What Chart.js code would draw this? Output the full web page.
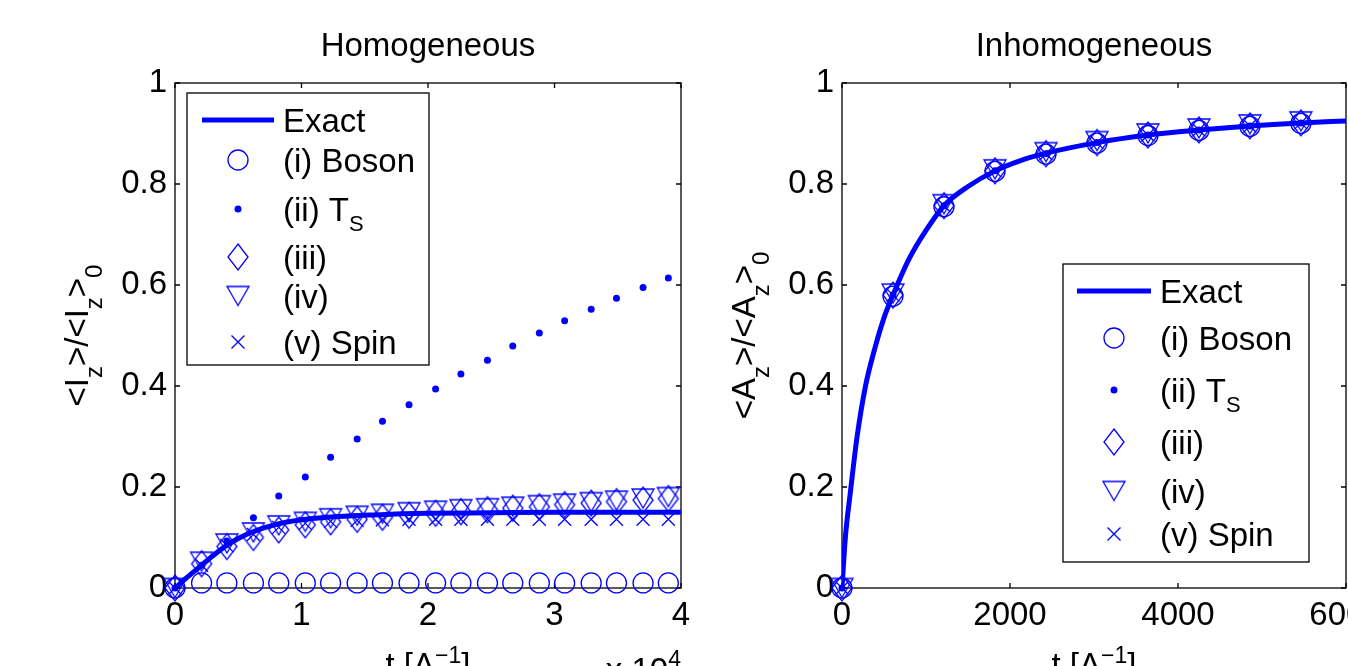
<!DOCTYPE html>
<html>
<head>
<meta charset="utf-8">
<script src="https://cdn.jsdelivr.net/npm/chart.js@4.4.1/dist/chart.umd.min.js"></script>
<style>
    html, body { margin: 0; padding: 0; background: #fff; overflow: hidden; }
    #wrap { position: relative; width: 1348px; height: 666px; overflow: hidden; }
    canvas { position: absolute; top: 0; }
    #homCanvas { left: 0; }
    #inhCanvas { left: 720px; }
</style>
</head>
<body>
<div id="wrap">
    <canvas id="homCanvas" width="720" height="666"></canvas>
    <canvas id="inhCanvas" width="700" height="666"></canvas>
</div>
<script>
// ---- Homogeneous panel (t in units of 10^4) ----
const homExactT = [0, 0.1, 0.2, 0.3, 0.4, 0.5, 0.6, 0.8, 1.0, 1.2, 1.4, 1.6, 1.8, 2.0, 2.5, 3.0, 3.5, 4.0];
const homExactV = [0, 0.022, 0.043, 0.064, 0.083, 0.098, 0.110, 0.126, 0.135, 0.140, 0.143, 0.145, 0.147, 0.148, 0.149, 0.150, 0.150, 0.150];
const homMarkT = [0, 0.21, 0.41, 0.62, 0.82, 1.03, 1.23, 1.44, 1.64, 1.85, 2.06, 2.26, 2.47, 2.67, 2.88, 3.08, 3.29, 3.49, 3.70, 3.90];
const homBoson = [0, 0.01, 0.01, 0.01, 0.01, 0.01, 0.01, 0.01, 0.01, 0.01, 0.01, 0.01, 0.01, 0.01, 0.01, 0.01, 0.01, 0.01, 0.01, 0.01];
const homTs = [0, 0.045, 0.093, 0.139, 0.182, 0.220, 0.259, 0.295, 0.330, 0.363, 0.394, 0.424, 0.451, 0.479, 0.505, 0.529, 0.552, 0.574, 0.595, 0.614];
const homIii = [0, 0.048, 0.082, 0.100, 0.115, 0.125, 0.131, 0.136, 0.140, 0.144, 0.148, 0.151, 0.155, 0.158, 0.161, 0.165, 0.168, 0.171, 0.174, 0.177];
const homIv = [0, 0.052, 0.088, 0.110, 0.124, 0.131, 0.138, 0.143, 0.147, 0.150, 0.153, 0.156, 0.158, 0.161, 0.164, 0.167, 0.170, 0.173, 0.177, 0.180];
const homSpin = [0, 0.045, 0.084, 0.106, 0.120, 0.128, 0.132, 0.134, 0.135, 0.136, 0.136, 0.136, 0.136, 0.136, 0.136, 0.136, 0.136, 0.136, 0.136, 0.136];
const homXTicks = [0, 1, 2, 3, 4];

// ---- Inhomogeneous panel ----
const inhExactT = [0, 40, 100, 180, 280, 400, 500, 607, 800, 1000, 1214, 1500, 1821, 2100, 2428, 3035, 3642, 4249, 4856, 5463, 6000];
const inhExactV = [0, 0.10, 0.19, 0.30, 0.40, 0.48, 0.535, 0.58, 0.652, 0.708, 0.757, 0.795, 0.826, 0.845, 0.861, 0.882, 0.897, 0.907, 0.915, 0.921, 0.925];
const inhMarkT = [0, 607, 1214, 1821, 2428, 3035, 3642, 4249, 4856, 5463];
const inhBoson = [0, 0.578, 0.755, 0.825, 0.859, 0.881, 0.896, 0.906, 0.914, 0.920];
const inhTs = [0, 0.580, 0.757, 0.826, 0.860, 0.882, 0.897, 0.907, 0.915, 0.921];
const inhIii = [0, 0.580, 0.757, 0.826, 0.860, 0.882, 0.897, 0.907, 0.915, 0.921];
const inhIv = [0, 0.583, 0.760, 0.829, 0.863, 0.885, 0.900, 0.910, 0.918, 0.924];
const inhSpin = [0, 0.580, 0.757, 0.826, 0.860, 0.882, 0.897, 0.907, 0.915, 0.921];
const inhXTicks = [0, 2000, 4000, 6000];

const yTicks = [0, 0.2, 0.4, 0.6, 0.8, 1];
const legendLabels = [
    [['Exact', '']],
    [['(i) Boson', '']],
    [['(ii) T', ''], ['S', 'sub']],
    [['(iii)', '']],
    [['(iv)', '']],
    [['(v) Spin', '']]
];
const legendKinds = ['line', 'circle', 'dot', 'diamond', 'tri', 'x'];

const FONT = "'Liberation Sans', Arial, Helvetica, sans-serif";
const BLUE = '#0000ff';
const FS = 33;

// marker images for the MATLAB-like diamond and down-triangle
function shapeCanvas(w, h, draw) {
    const c = document.createElement('canvas');
    c.width = w;
    c.height = h;
    const g = c.getContext('2d');
    g.strokeStyle = BLUE;
    g.lineWidth = 1.3;
    draw(g, w, h);
    return c;
}
const diamondImg = shapeCanvas(24, 30, function(g, w, h) {
    g.beginPath();
    g.moveTo(w / 2, 2); g.lineTo(w - 2, h / 2); g.lineTo(w / 2, h - 2); g.lineTo(2, h / 2);
    g.closePath();
    g.stroke();
});
const triImg = shapeCanvas(26, 23, function(g, w, h) {
    g.beginPath();
    g.moveTo(2, 2); g.lineTo(w - 2, 2); g.lineTo(w / 2, h - 2);
    g.closePath();
    g.stroke();
});

function pts(xs, ys) {
    return xs.map((x, i) => ({ x: x, y: ys[i] }));
}

function markerSet(xs, ys, style, radius, filled) {
    return {
        data: pts(xs, ys),
        pointStyle: style,
        pointRadius: radius,
        pointHoverRadius: radius,
        borderColor: BLUE,
        backgroundColor: filled ? BLUE : 'rgba(0,0,0,0)',
        pointBorderWidth: filled ? 0 : 1.3,
        clip: false,
        order: 0
    };
}

// text with sub/superscripts
function richWidth(ctx, parts, st) {
    let w = 0;
    parts.forEach(p => {
        ctx.font = (p[1] ? st.small : st.size) + 'px ' + FONT;
        w += ctx.measureText(p[0]).width;
    });
    return w;
}
function drawRich(ctx, parts, x, y, align, st) {
    const w = richWidth(ctx, parts, st);
    let cx = align === 'center' ? x - w / 2 : (align === 'right' ? x - w : x);
    ctx.textAlign = 'left';
    ctx.textBaseline = 'alphabetic';
    ctx.fillStyle = '#000';
    parts.forEach(p => {
        ctx.font = (p[1] ? st.small : st.size) + 'px ' + FONT;
        const dy = p[1] === 'sub' ? st.subDy : (p[1] === 'sup' ? -st.supDy : 0);
        ctx.fillText(p[0], cx, y + dy);
        cx += ctx.measureText(p[0]).width;
    });
}

function drawMarker(ctx, kind, x, y, lx) {
    ctx.save();
    ctx.strokeStyle = BLUE;
    ctx.fillStyle = BLUE;
    ctx.lineWidth = 1.3;
    ctx.beginPath();
    if (kind === 'line') {
        ctx.lineWidth = 5;
        ctx.moveTo(lx[0], y);
        ctx.lineTo(lx[1], y);
        ctx.stroke();
    } else if (kind === 'circle') {
        ctx.arc(x, y, 10, 0, Math.PI * 2);
        ctx.stroke();
    } else if (kind === 'dot') {
        ctx.arc(x, y, 3.5, 0, Math.PI * 2);
        ctx.fill();
    } else if (kind === 'diamond') {
        ctx.drawImage(diamondImg, x - 12, y - 15);
    } else if (kind === 'tri') {
        ctx.drawImage(triImg, x - 13, y - 11.5);
    } else if (kind === 'x') {
        ctx.moveTo(x - 6.5, y - 6.5); ctx.lineTo(x + 6.5, y + 6.5);
        ctx.moveTo(x + 6.5, y - 6.5); ctx.lineTo(x - 6.5, y + 6.5);
        ctx.stroke();
    }
    ctx.restore();
}

// axes box, inward ticks, legend, titles
function panelPlugin(cfg) {
    return {
        id: 'panel',
        beforeDatasetsDraw(chart) {
            const ctx = chart.ctx;
            const a = chart.chartArea;
            const sx = chart.scales.x, sy = chart.scales.y;
            ctx.save();
            ctx.strokeStyle = '#000';
            ctx.lineWidth = 1.3;
            ctx.strokeRect(a.left, a.top, a.right - a.left, a.bottom - a.top);
            ctx.beginPath();
            sx.ticks.forEach(t => {
                const px = sx.getPixelForValue(t.value);
                ctx.moveTo(px, a.bottom); ctx.lineTo(px, a.bottom - 5);
                ctx.moveTo(px, a.top); ctx.lineTo(px, a.top + 5);
            });
            sy.ticks.forEach(t => {
                const py = sy.getPixelForValue(t.value);
                ctx.moveTo(a.left, py); ctx.lineTo(a.left + 5, py);
                ctx.moveTo(a.right, py); ctx.lineTo(a.right - 5, py);
            });
            ctx.stroke();
            ctx.restore();
        },
        afterDatasetsDraw(chart) {
            const ctx = chart.ctx;
            const L = cfg.legend;
            ctx.save();
            ctx.fillStyle = '#fff';
            ctx.fillRect(L.x, L.y, L.w, L.h);
            ctx.strokeStyle = '#000';
            ctx.lineWidth = 1.3;
            ctx.strokeRect(L.x, L.y, L.w, L.h);
            legendKinds.forEach((k, i) => {
                drawMarker(ctx, k, L.symX, L.rows[i], L.lineX);
                drawRich(ctx, legendLabels[i], L.textX, L.rows[i] + 12, 'left',
                    { size: FS, small: 22, subDy: 10, supDy: 0 });
            });
            ctx.restore();
        },
        afterDraw(chart) {
            const ctx = chart.ctx;
            const a = chart.chartArea;
            const mid = (a.left + a.right) / 2;
            ctx.save();
            drawRich(ctx, [[cfg.title, '']], mid, 56, 'center', { size: FS, small: 22, subDy: 0, supDy: 0 });
            drawRich(ctx, cfg.xLabel, mid, 676, 'center', { size: FS, small: 23, subDy: 0, supDy: 13 });
            if (cfg.exponent) {
                drawRich(ctx, cfg.exponent, a.right, 681, 'right', { size: FS, small: 23, subDy: 0, supDy: 14 });
            }
            ctx.translate(a.left - 87, (a.top + a.bottom) / 2);
            ctx.rotate(-Math.PI / 2);
            drawRich(ctx, cfg.yLabel, 0, 0, 'center', { size: FS, small: 24, subDy: 14, supDy: 0 });
            ctx.restore();
        }
    };
}

function makeChart(canvasId, cfg) {
    const tickFont = { family: FONT, size: FS };
    return new Chart(document.getElementById(canvasId), {
        type: 'scatter',
        data: {
            datasets: [
                {
                    data: pts(cfg.exactT, cfg.exactV),
                    showLine: true,
                    borderColor: BLUE,
                    borderWidth: 5,
                    pointRadius: 0,
                    cubicInterpolationMode: 'monotone',
                    order: 10
                },
                markerSet(cfg.markT, cfg.boson, 'circle', 10, false),
                markerSet(cfg.markT, cfg.ts, 'circle', 3.5, true),
                markerSet(cfg.markT, cfg.iii, diamondImg, 12, false),
                markerSet(cfg.markT, cfg.iv, triImg, 12, false),
                markerSet(cfg.markT, cfg.spin, 'crossRot', 9.2, false)
            ]
        },
        options: {
            responsive: false,
            animation: false,
            events: [],
            layout: { autoPadding: false, padding: { top: 83, right: cfg.padRight, left: 0, bottom: 0 } },
            plugins: { legend: { display: false }, tooltip: { enabled: false } },
            scales: {
                x: {
                    type: 'linear',
                    min: cfg.xMin,
                    max: cfg.xMax,
                    afterBuildTicks: s => { s.ticks = cfg.xTicks.map(v => ({ value: v })); },
                    ticks: { callback: v => String(v), color: '#000', font: tickFont, padding: 8, maxRotation: 0, autoSkip: false },
                    grid: { display: false, drawTicks: false },
                    border: { display: false },
                    afterFit: s => { s.height = 78; }
                },
                y: {
                    type: 'linear',
                    min: 0,
                    max: 1,
                    afterBuildTicks: s => { s.ticks = yTicks.map(v => ({ value: v })); },
                    ticks: { callback: v => String(v), color: '#000', font: tickFont, padding: 8, autoSkip: false },
                    grid: { display: false, drawTicks: false },
                    border: { display: false },
                    afterFit: s => { s.width = cfg.yWidth; }
                }
            }
        },
        plugins: [panelPlugin(cfg)]
    });
}

makeChart('homCanvas', {
    exactT: homExactT, exactV: homExactV, markT: homMarkT,
    boson: homBoson, ts: homTs, iii: homIii, iv: homIv, spin: homSpin,
    xMin: 0, xMax: 4, xTicks: homXTicks,
    padRight: 39, yWidth: 175,
    title: 'Homogeneous',
    xLabel: [['t [Λ', ''], ['−1', 'sup'], [']', '']],
    exponent: [['x 10', ''], ['4', 'sup']],
    yLabel: [['<I', ''], ['z', 'sub'], ['>/<I', ''], ['z', 'sub'], ['>', ''], ['0', 'sub']],
    legend: { x: 187, y: 93, w: 242, h: 272, lineX: [202, 274], symX: 238, textX: 283, rows: [120, 160, 209, 257, 296, 342] }
});

makeChart('inhCanvas', {
    exactT: inhExactT, exactV: inhExactV, markT: inhMarkT,
    boson: inhBoson, ts: inhTs, iii: inhIii, iv: inhIv, spin: inhSpin,
    xMin: 0, xMax: 6000, xTicks: inhXTicks,
    padRight: 74, yWidth: 122,
    title: 'Inhomogeneous',
    xLabel: [['t [Λ', ''], ['−1', 'sup'], [']', '']],
    exponent: null,
    yLabel: [['<A', ''], ['z', 'sub'], ['>/<A', ''], ['z', 'sub'], ['>', ''], ['0', 'sub']],
    legend: { x: 343, y: 264, w: 246, h: 298, lineX: [357, 431], symX: 394, textX: 440, rows: [291, 338, 390, 442, 491, 534] }
});
</script>
</body>
</html>
